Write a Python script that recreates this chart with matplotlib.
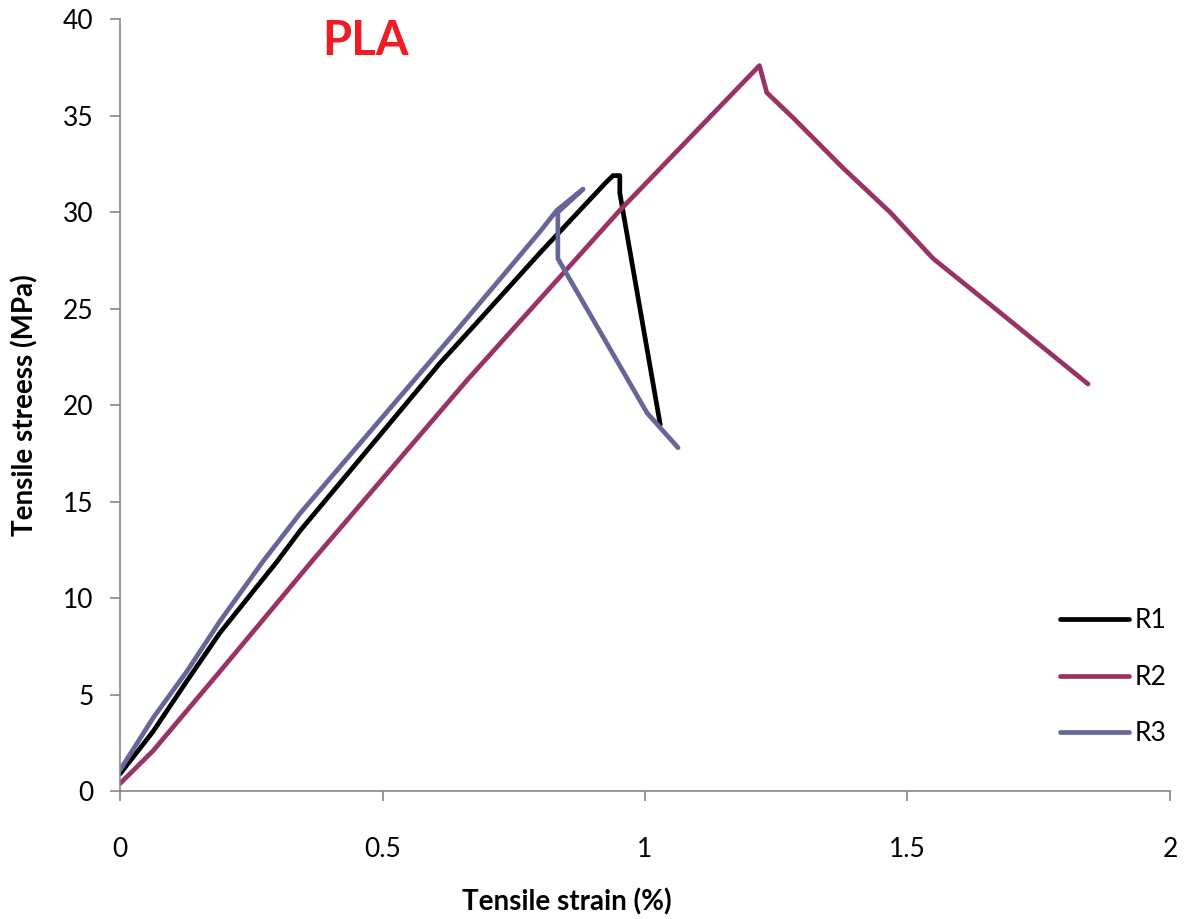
import matplotlib
matplotlib.use("Agg")
import matplotlib.pyplot as plt

plt.rcParams['font.family'] = ['Lato', 'DejaVu Sans']

r1_x = [0, 0.063, 0.127, 0.19, 0.299, 0.343, 0.61, 0.667, 0.8, 0.924, 0.939, 0.952, 0.952, 1.029]
r1_y = [0.9, 3.1, 5.7, 8.2, 11.9, 13.5, 22.2, 23.9, 27.9, 31.5, 31.9, 31.9, 31.0, 19.0]

r2_x = [0, 0.063, 0.19, 0.368, 0.661, 0.952, 1.218, 1.232, 1.282, 1.377, 1.467, 1.549, 1.663, 1.844]
r2_y = [0.4, 2.1, 6.2, 12.0, 21.3, 30.1, 37.6, 36.2, 34.9, 32.3, 30.0, 27.6, 25.1, 21.1]

r3_x = [0, 0.063, 0.127, 0.19, 0.272, 0.343, 0.642, 0.8, 0.832, 0.882, 0.834, 0.834, 1.004, 1.063]
r3_y = [1.1, 3.8, 6.2, 8.8, 11.9, 14.4, 23.9, 29.0, 30.1, 31.2, 30.0, 27.6, 19.6, 17.8]

labels = ["R1", "R2", "R3"]
colors = ["#000000", "#993366", "#666699"]
x_ticks = [0, 0.5, 1, 1.5, 2]
x_tick_labels = ["0", "0.5", "1", "1.5", "2"]
y_ticks = [0, 5, 10, 15, 20, 25, 30, 35, 40]

fig = plt.figure(figsize=(11.85, 9.19), dpi=100)
ax = fig.add_axes([0.1013, 0.139, 0.886, 0.840])

for xs, ys, lab, c in zip([r1_x, r2_x, r3_x], [r1_y, r2_y, r3_y], labels, colors):
    ax.plot(xs, ys, color=c, lw=3.4, label=lab, solid_joinstyle='round', solid_capstyle='round')

ax.set_xlim(0, 2)
ax.set_ylim(0, 40)
ax.set_xticks(x_ticks)
ax.set_xticklabels(x_tick_labels)
ax.set_yticks(y_ticks)

for s in ['top', 'right']:
    ax.spines[s].set_visible(False)
for s in ['left', 'bottom']:
    ax.spines[s].set_color('#888888')
    ax.spines[s].set_linewidth(1.2)

ax.tick_params(axis='both', colors='#888888', labelcolor='black', labelsize=19, length=7, width=1.2, direction='out')
ax.tick_params(axis='x', pad=26)
ax.tick_params(axis='y', pad=12)

ax.set_xlabel("Tensile strain (%)", fontsize=20, fontweight='bold', labelpad=20)
ax.xaxis.set_label_coords(0.426, -0.126)
ax.set_ylabel("Tensile streess (MPa)", fontsize=20, fontweight='bold', labelpad=18)

ax.text(0.467, 38.9, "PLA", color="#EE1C25", fontsize=34, fontweight='bold', ha='center', va='center')

ax.legend(loc='upper left', bbox_to_anchor=(0.873, 0.268), frameon=False, fontsize=19,
          handlelength=2.6, labelspacing=1.2, handletextpad=0.2)

fig.savefig("out.png", dpi=100, facecolor='white')
